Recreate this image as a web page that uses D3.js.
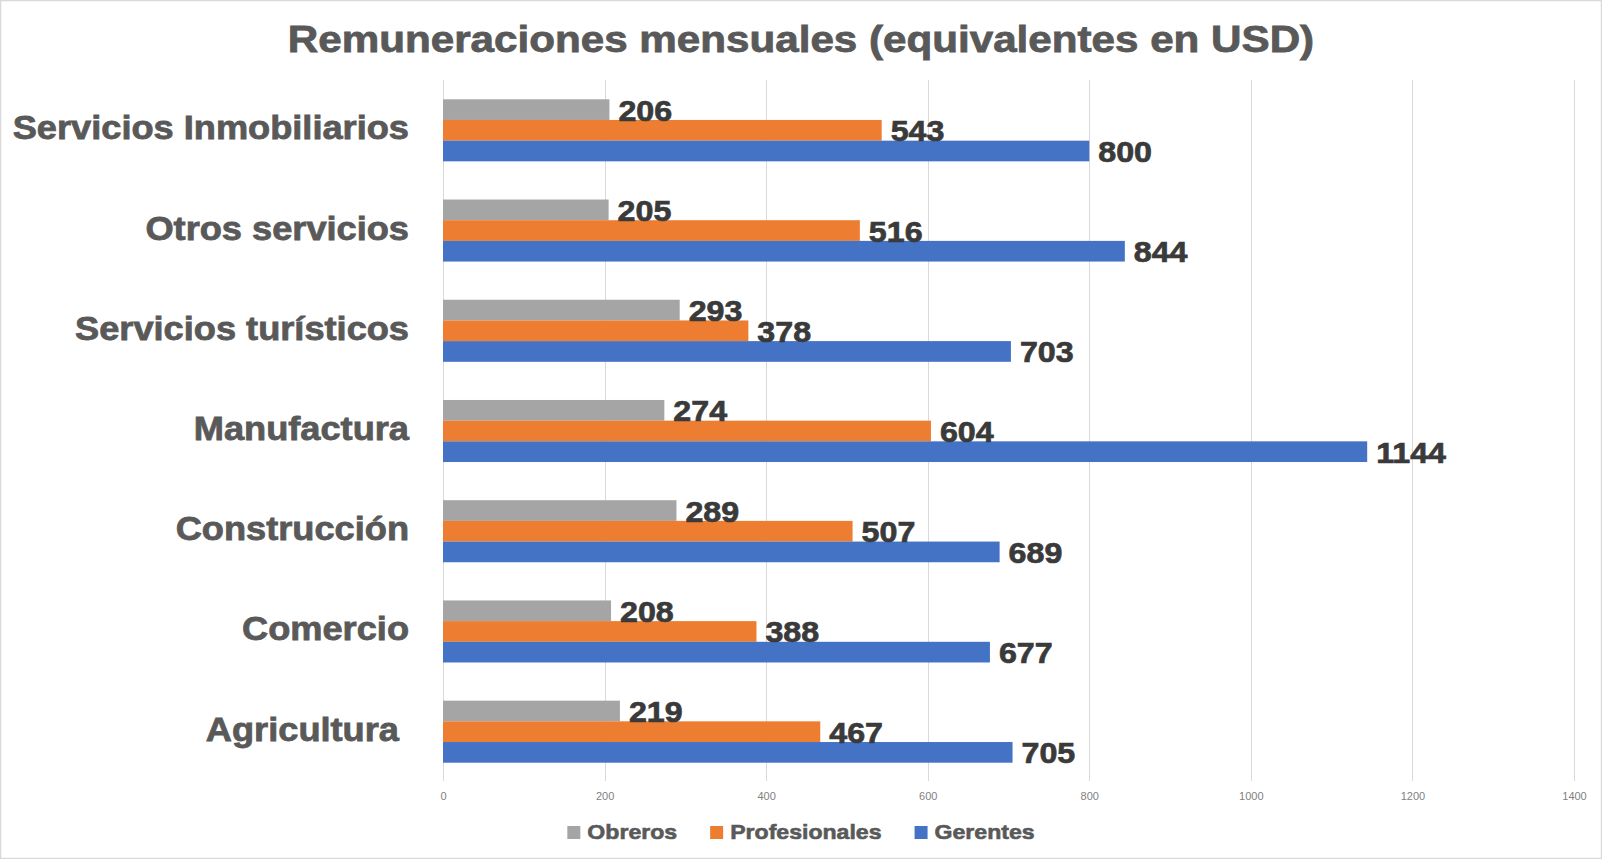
<!DOCTYPE html>
<html>
<head>
<meta charset="utf-8">
<script src="https://cdn.jsdelivr.net/npm/d3@7"></script>
<style>
  html, body { margin: 0; padding: 0; background: #fff; }
  svg { display: block; font-family: "Liberation Sans", Arial, Helvetica, sans-serif; }
</style>
</head>
<body>
<svg id="chart" width="1602" height="859"></svg>
<script>
const title = "Remuneraciones mensuales (equivalentes en USD)";
const categories = ["Servicios Inmobiliarios", "Otros servicios", "Servicios turísticos", "Manufactura", "Construcción", "Comercio", "Agricultura "];
const seriesNames = ["Obreros", "Profesionales", "Gerentes"];
const seriesColors = ["#A5A5A5", "#ED7D31", "#4472C4"];
const obreros = [206, 205, 293, 274, 289, 208, 219];
const profesionales = [543, 516, 378, 604, 507, 388, 467];
const gerentes = [800, 844, 703, 1144, 689, 677, 705];
const tickValues = [0, 200, 400, 600, 800, 1000, 1200, 1400];

const seriesValues = [obreros, profesionales, gerentes];

const W = 1602, H = 859;
const svg = d3.select("#chart");

// outer border
svg.append("rect")
  .attr("x", 0.5).attr("y", 0.5)
  .attr("width", W - 1).attr("height", H - 1)
  .attr("fill", "#fff").attr("stroke", "#D9D9D9").attr("stroke-width", 1.5);

const x = d3.scaleLinear().domain([0, 1400]).range([443, 1574]);
const y = d3.scaleBand().domain(categories).range([80.2, 781.8])
  .paddingInner(0.381).paddingOuter(0.1905);
const ys = d3.scaleBand().domain(seriesNames).range([0, y.bandwidth()]);

// gridlines
svg.append("g").selectAll("line").data(tickValues).join("line")
  .attr("x1", d => Math.round(x(d)) + 0.5).attr("x2", d => Math.round(x(d)) + 0.5)
  .attr("y1", 80).attr("y2", 781)
  .attr("stroke", "#D9D9D9").attr("stroke-width", 1);

// x axis tick labels
const xAxis = d3.axisBottom(x).tickValues(tickValues).tickFormat(d3.format("d")).tickSize(0).tickPadding(0);
const gx = svg.append("g").attr("transform", "translate(0,792)").call(xAxis);
gx.select(".domain").remove();
gx.selectAll("text")
  .attr("font-size", 11).attr("fill", "#7F7F7F")
  .attr("font-family", "'Liberation Sans Narrow', 'Liberation Sans', Arial, sans-serif");

// title (horizontally widened like the original)
svg.append("text")
  .attr("transform", "translate(801,52) scale(1.14,1)")
  .attr("text-anchor", "middle")
  .attr("font-size", 37).attr("font-weight", "bold")
  .attr("fill", "#595959")
  .attr("stroke", "#595959").attr("stroke-width", 0.8)
  .text(title);

// category labels
svg.append("g").selectAll("text").data(categories).join("text")
  .attr("transform", d => `translate(409,${y(d) + y.bandwidth() / 2 + 9}) scale(1.065,1)`)
  .attr("text-anchor", "end")
  .attr("font-size", 34).attr("font-weight", "bold")
  .attr("fill", "#595959")
  .attr("stroke", "#595959").attr("stroke-width", 0.8)
  .style("white-space", "pre")
  .text(d => d);

// bars + labels
const rows = [];
categories.forEach((c, i) => {
  seriesNames.forEach((s, j) => {
    rows.push({ cat: c, series: s, value: seriesValues[j][i], color: seriesColors[j] });
  });
});

svg.append("g").selectAll("rect").data(rows).join("rect")
  .attr("x", x(0))
  .attr("y", d => y(d.cat) + ys(d.series))
  .attr("width", d => x(d.value) - x(0))
  .attr("height", ys.bandwidth())
  .attr("fill", d => d.color);

svg.append("g").selectAll("text").data(rows).join("text")
  .attr("transform", d => `translate(${x(d.value) + 9},${y(d.cat) + ys(d.series) + ys.bandwidth() / 2 + 11}) scale(1.11,1)`)
  .attr("font-size", 29).attr("font-weight", "bold")
  .attr("fill", "#3A3A3A")
  .attr("stroke", "#3A3A3A").attr("stroke-width", 0.7)
  .text(d => d.value);

// legend
const legendScale = 1.10;
const legend = svg.append("g");
const items = legend.selectAll("g").data(seriesNames).join("g");
items.append("rect")
  .attr("width", 13).attr("height", 13)
  .attr("y", -13)
  .attr("fill", (d, i) => seriesColors[i]);
items.append("text")
  .attr("transform", `translate(20,0) scale(${legendScale},1)`)
  .attr("font-size", 21).attr("font-weight", "bold")
  .attr("fill", "#595959")
  .attr("stroke", "#595959").attr("stroke-width", 0.6)
  .text(d => d);
const widths = [];
items.each(function () {
  const w = 20 + legendScale * d3.select(this).select("text").node().getComputedTextLength();
  widths.push(w);
});
const gap = 33;
const total = d3.sum(widths) + gap * (widths.length - 1);
let cur = 801 - total / 2;
items.attr("transform", (d, i) => {
  const t = `translate(${cur},839)`;
  cur += widths[i] + gap;
  return t;
});
</script>
</body>
</html>
